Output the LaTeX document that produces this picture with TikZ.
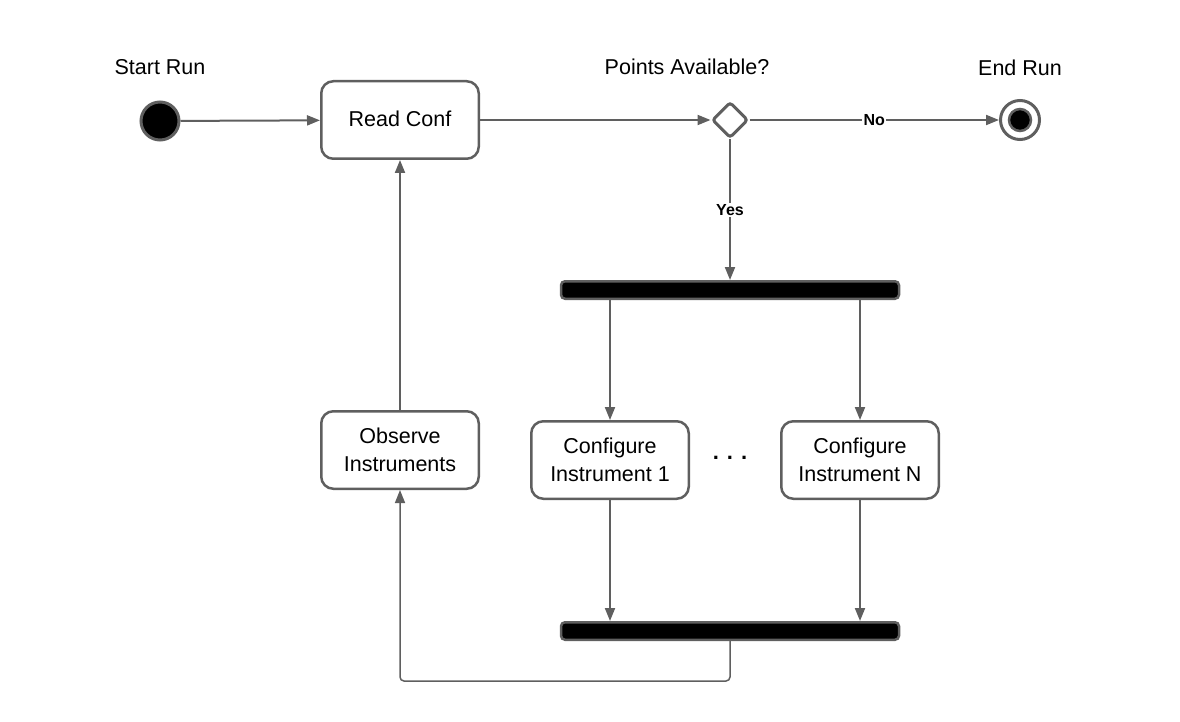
\documentclass[tikz,border=0pt]{standalone}
\usepackage{fontspec}
\setmainfont{Liberation Sans}
\usetikzlibrary{arrows.meta,shapes.geometric}
\definecolor{ln}{RGB}{95,95,95}
\begin{document}
\begin{tikzpicture}[x=1pt,y=-1pt,
  box/.style={draw=ln, line width=2.5pt, rounded corners=12pt, minimum width=157.5pt, minimum height=77.5pt, align=center, inner sep=0pt, font=\fontsize{21.5}{28}\selectfont},
  bar/.style={draw=ln, fill=black, line width=2.5pt, rounded corners=4pt, minimum width=338pt, minimum height=17.5pt, inner sep=0pt},
  lbl/.style={font=\fontsize{21.5}{24}\selectfont, inner sep=0pt},
  conn/.style={draw=ln, line width=2pt, -{Triangle[length=13pt,width=10pt]}},
  cond/.style={font=\bfseries\fontsize{16}{18}\selectfont, fill=white, inner sep=1.5pt}]
\useasboundingbox (0,0) rectangle (1180,722);
% nodes
\node[circle, draw=ln, fill=black, line width=3pt, minimum size=38pt, inner sep=0pt] (start) at (160,121) {};
\node[lbl] (startlbl) at (160,67) {Start Run};
\node[box] (read) at (400,120) {\raisebox{2pt}{Read Conf}};
\node[diamond, aspect=1, draw=ln, fill=white, line width=3pt, minimum size=36pt, inner sep=0pt, rounded corners=3pt] (dec) at (730,120) {};
\node[lbl] (declbl) at (687,67) {Points Available?};
\node[circle, draw=ln, line width=3pt, minimum size=39pt, inner sep=0pt] (end) at (1020,120) {};
\node[circle, draw=ln, fill=black, line width=2.5pt, minimum size=22pt, inner sep=0pt] (endin) at (1020,120) {};
\node[lbl] (endlbl) at (1020,68) {End Run};
\node[bar] (fork) at (730,290) {};
\node[box] (obs) at (400,450) {Observe\\Instruments};
\node[box] (c1) at (610,460) {Configure\\Instrument 1};
\node[box] (cn) at (860,460) {Configure\\Instrument N};
\node[font=\bfseries\fontsize{22}{22}\selectfont, inner sep=0pt] (dots) at (730,458) {.\hspace{8pt}.\hspace{8pt}.};
\node[bar] (join) at (730,631) {};
% connectors
\draw[conn] (start) -- (read);
\draw[conn] (read) -- (dec);
\draw[conn] (dec) -- node[cond] (no) {No} (end);
\draw[conn] (dec) -- node[cond] (yes) {Yes} (fork);
\draw[conn] (fork.south -| c1.north) -- (c1.north);
\draw[conn] (fork.south -| cn.north) -- (cn.north);
\draw[conn] (c1.south) -- (join.north -| c1.south);
\draw[conn] (cn.south) -- (join.north -| cn.south);
\draw[conn] (obs.north) -- (read.south);
\draw[draw=ln, line width=1.5pt, rounded corners=4pt, -{Triangle[length=13pt,width=10pt]}] (join.south) -- ++(0,40) -| (obs.south);
\end{tikzpicture}
\end{document}
